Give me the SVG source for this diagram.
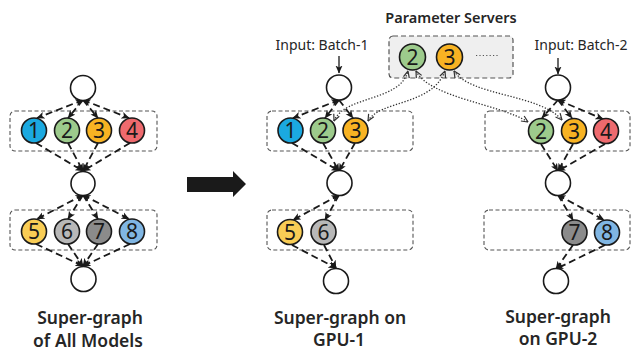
<svg xmlns="http://www.w3.org/2000/svg" width="632" height="351" viewBox="0 0 632 351">
<style>
.n{stroke:#1a1a1a;stroke-width:1.6}
.w{fill:#fff}
.num{font-family:"Noto Sans","Open Sans","DejaVu Sans",sans-serif;font-size:21px;fill:#1a1a1a;text-anchor:middle}
.lbl{font-family:"Noto Sans","Open Sans","DejaVu Sans",sans-serif;fill:#262626;text-anchor:middle}
.big{font-size:17.5px;font-weight:600}
.box{fill:none;stroke:#555;stroke-width:1.1;stroke-dasharray:4,2.5}
.e{fill:none;stroke:#1a1a1a;stroke-width:1.8;stroke-dasharray:7,4}
.d{fill:none;stroke:#333;stroke-width:1.3;stroke-dasharray:1.3,1.7}
</style>
<defs>
<marker id="a" viewBox="0 0 8 8" refX="7.5" refY="4" markerWidth="8" markerHeight="8" markerUnits="userSpaceOnUse" orient="auto-start-reverse"><path d="M0,0.5 L8,4 L0,7.5 L2,4z" fill="#1a1a1a"/></marker>
<marker id="o" viewBox="0 0 8 8" refX="7.5" refY="4" markerWidth="8" markerHeight="8" markerUnits="userSpaceOnUse" orient="auto-start-reverse"><path d="M1,1 L7.5,4 L1,7" fill="none" stroke="#333" stroke-width="1.2"/></marker>
</defs>

<!-- boxes -->
<g id="boxes">
<rect class="box" x="10" y="111" width="147" height="40" rx="5"/>
<rect class="box" x="10" y="210" width="147" height="40" rx="5"/>
<rect class="box" x="267" y="111" width="146" height="40" rx="5"/>
<rect class="box" x="267" y="210" width="146" height="40" rx="5"/>
<rect class="box" x="485" y="111" width="145" height="40" rx="5"/>
<rect class="box" x="484" y="210" width="146" height="40" rx="5"/>
</g>
<g id="ps">
<rect x="389" y="36" width="124" height="42" rx="4" fill="#efefef" stroke="#555" stroke-width="1.2" stroke-dasharray="5,3"/>
<line x1="476" y1="55.5" x2="498" y2="55.5" stroke="#555" stroke-width="1.2" stroke-dasharray="1.2,2.2"/>
</g>

<!-- connectors -->
<g id="connectors">
<!-- left column -->
<path class="e" d="M83,100 L37,118" marker-start="url(#a)" marker-end="url(#a)"/>
<path class="e" d="M83,100 L68,118" marker-end="url(#a)"/>
<path class="e" d="M83,100 L98,118" marker-end="url(#a)"/>
<path class="e" d="M83,100 L129,118" marker-start="url(#a)" marker-end="url(#a)"/>
<path class="e" d="M36,143 L83,171" marker-end="url(#a)"/>
<path class="e" d="M68,143 L83,171" marker-end="url(#a)"/>
<path class="e" d="M98,143 L83,171" marker-end="url(#a)"/>
<path class="e" d="M130,143 L83,171" marker-end="url(#a)"/>
<path class="e" d="M83,195 L37,219" marker-start="url(#a)" marker-end="url(#a)"/>
<path class="e" d="M83,195 L68,219" marker-end="url(#a)"/>
<path class="e" d="M83,195 L98,219" marker-end="url(#a)"/>
<path class="e" d="M83,195 L129,219" marker-start="url(#a)" marker-end="url(#a)"/>
<path class="e" d="M36,244 L83,266" marker-end="url(#a)"/>
<path class="e" d="M68,244 L83,266" marker-end="url(#a)"/>
<path class="e" d="M98,244 L83,266" marker-end="url(#a)"/>
<path class="e" d="M130,244 L83,266" marker-end="url(#a)"/>
<!-- GPU-1 -->
<path d="M339,56 L339,73" stroke="#1a1a1a" stroke-width="1.3" marker-end="url(#a)"/>
<path class="e" d="M339,100 L293,118" marker-start="url(#a)" marker-end="url(#a)"/>
<path class="e" d="M339,100 L325,118" marker-end="url(#a)"/>
<path class="e" d="M339,100 L353,118" marker-end="url(#a)"/>
<path class="e" d="M292,143 L339,171" marker-end="url(#a)"/>
<path class="e" d="M323,143 L339,171" marker-end="url(#a)"/>
<path class="e" d="M355,143 L339,171" marker-end="url(#a)"/>
<path class="e" d="M339,195 L293,220" marker-start="url(#a)" marker-end="url(#a)"/>
<path class="e" d="M339,195 L325,220" marker-end="url(#a)"/>
<path class="e" d="M292,245 L336,268" marker-end="url(#a)"/>
<path class="e" d="M324,245 L336,268" marker-end="url(#a)"/>
<!-- GPU-2 -->
<path d="M558,58 L558,74" stroke="#1a1a1a" stroke-width="1.3" marker-end="url(#a)"/>
<path class="e" d="M558,100 L542,118" marker-end="url(#a)"/>
<path class="e" d="M558,100 L572,118" marker-end="url(#a)"/>
<path class="e" d="M558,100 L603,119" marker-start="url(#a)" marker-end="url(#a)"/>
<path class="e" d="M541,144 L558,171" marker-end="url(#a)"/>
<path class="e" d="M573,144 L558,171" marker-end="url(#a)"/>
<path class="e" d="M605,144 L558,171" marker-end="url(#a)"/>
<path class="e" d="M558,195 L573,220" marker-end="url(#a)"/>
<path class="e" d="M558,195 L604,220" marker-start="url(#a)" marker-end="url(#a)"/>
<path class="e" d="M573,245 L556,269" marker-end="url(#a)"/>
<path class="e" d="M605,245 L556,269" marker-end="url(#a)"/>
<!-- parameter sync -->
<path class="d" d="M334,121 C345,95 400,102 408,71" marker-start="url(#o)" marker-end="url(#o)"/>
<path class="d" d="M368,121 C380,100 432,106 445,71" marker-start="url(#o)" marker-end="url(#o)"/>
<path class="d" d="M416,71 C430,98 500,104 528,122" marker-start="url(#o)" marker-end="url(#o)"/>
<path class="d" d="M454,71 C470,96 540,94 562,120" marker-start="url(#o)" marker-end="url(#o)"/>
</g>

<!-- big arrow -->
<g id="bigarrow"><path d="M187,177 L233,177 L233,171 L246,184 L233,197 L233,192 L187,192z" fill="#1a1a1a"/></g>

<!-- nodes: left -->
<g id="L-top"><circle class="n w" cx="83" cy="88" r="12.5"/></g>
<g id="L-1"><circle class="n" cx="34" cy="130.5" r="12.5" fill="#1ba9e0"/><text class="num" x="34" y="138">1</text></g>
<g id="L-2"><circle class="n" cx="67" cy="130.5" r="12.5" fill="#9dcb8c"/><text class="num" x="67" y="138">2</text></g>
<g id="L-3"><circle class="n" cx="99" cy="130.5" r="12.5" fill="#f8b323"/><text class="num" x="99" y="138">3</text></g>
<g id="L-4"><circle class="n" cx="132" cy="130.5" r="12.5" fill="#ee6a6e"/><text class="num" x="132" y="138">4</text></g>
<g id="L-mid"><circle class="n w" cx="83" cy="183.5" r="12"/></g>
<g id="L-5"><circle class="n" cx="34" cy="231.5" r="12.5" fill="#f9cd55"/><text class="num" x="34" y="239">5</text></g>
<g id="L-6"><circle class="n" cx="67" cy="231.5" r="12.5" fill="#b8b8b8"/><text class="num" x="67" y="239">6</text></g>
<g id="L-7"><circle class="n" cx="99" cy="231.5" r="12.5" fill="#8b8b8b"/><text class="num" x="99" y="239">7</text></g>
<g id="L-8"><circle class="n" cx="132" cy="231.5" r="12.5" fill="#80b6e3"/><text class="num" x="132" y="239">8</text></g>
<g id="L-bot"><circle class="n w" cx="83.5" cy="279" r="12.5"/></g>

<!-- nodes: GPU-1 -->
<g id="G1-top"><circle class="n w" cx="339" cy="87.5" r="12.5"/></g>
<g id="G1-1"><circle class="n" cx="290.5" cy="130.5" r="12.5" fill="#1ba9e0"/><text class="num" x="290.5" y="138">1</text></g>
<g id="G1-2"><circle class="n" cx="323" cy="130.5" r="12.5" fill="#9dcb8c"/><text class="num" x="323" y="138">2</text></g>
<g id="G1-3"><circle class="n" cx="355.5" cy="130.5" r="12.5" fill="#f8b323"/><text class="num" x="355.5" y="138">3</text></g>
<g id="G1-mid"><circle class="n w" cx="339.5" cy="183" r="12.5"/></g>
<g id="G1-5"><circle class="n" cx="290" cy="232" r="12.5" fill="#f9cd55"/><text class="num" x="290" y="239.5">5</text></g>
<g id="G1-6"><circle class="n" cx="323.5" cy="232" r="12.5" fill="#b8b8b8"/><text class="num" x="323.5" y="239.5">6</text></g>
<g id="G1-bot"><circle class="n w" cx="336" cy="281" r="12.5"/></g>

<!-- nodes: parameter servers -->
<g id="PS-2"><circle class="n" cx="412.5" cy="57" r="13" fill="#9dcb8c"/><text class="num" x="412.5" y="64.5">2</text></g>
<g id="PS-3"><circle class="n" cx="449.5" cy="57" r="13" fill="#f8b323"/><text class="num" x="449.5" y="64.5">3</text></g>

<!-- nodes: GPU-2 -->
<g id="G2-top"><circle class="n w" cx="558" cy="87.5" r="12.5"/></g>
<g id="G2-2"><circle class="n" cx="541" cy="131" r="12.5" fill="#9dcb8c"/><text class="num" x="541" y="138.5">2</text></g>
<g id="G2-3"><circle class="n" cx="574" cy="131" r="12.5" fill="#f8b323"/><text class="num" x="574" y="138.5">3</text></g>
<g id="G2-4"><circle class="n" cx="606" cy="131" r="12.5" fill="#ee6a6e"/><text class="num" x="606" y="138.5">4</text></g>
<g id="G2-mid"><circle class="n w" cx="558" cy="183" r="12.5"/></g>
<g id="G2-7"><circle class="n" cx="574.5" cy="232.5" r="12.5" fill="#8b8b8b"/><text class="num" x="574.5" y="240">7</text></g>
<g id="G2-8"><circle class="n" cx="607" cy="232.5" r="12.5" fill="#80b6e3"/><text class="num" x="607" y="240">8</text></g>
<g id="G2-bot"><circle class="n w" cx="556" cy="281" r="12.5"/></g>

<!-- labels -->
<g id="labels">
<text class="lbl" x="451" y="23" font-size="14.5" font-weight="600">Parameter Servers</text>
<text class="lbl" x="322" y="50" font-size="14">Input: Batch-1</text>
<text class="lbl" x="581" y="50" font-size="14">Input: Batch-2</text>
<text class="lbl big" x="90" y="324">Super-graph</text>
<text class="lbl big" x="88" y="346.5">of All Models</text>
<text class="lbl big" x="340" y="323.5">Super-graph on</text>
<text class="lbl big" x="339" y="346">GPU-1</text>
<text class="lbl big" x="558" y="322.5">Super-graph</text>
<text class="lbl big" x="558" y="345">on GPU-2</text>
</g>
</svg>
